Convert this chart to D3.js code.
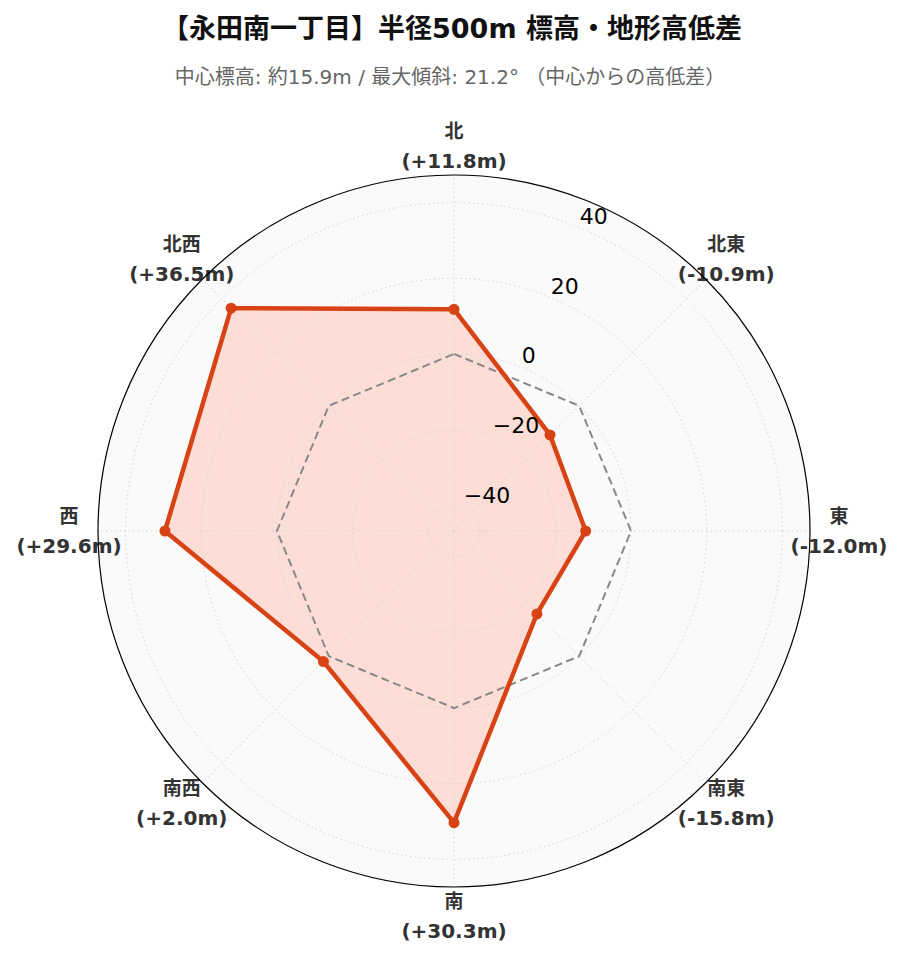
<!DOCTYPE html>
<html><head><meta charset="utf-8">
<script src="https://cdn.jsdelivr.net/npm/d3@7"></script>
<style>body{margin:0;background:#fff}svg{display:block}</style>
</head><body>
<svg id="c" width="903" height="962"></svg>
<script>
const directions = ["北","北東","東","南東","南","南西","西","北西"];
const values = [11.8, -10.9, -12.0, -15.8, 30.3, 2.0, 29.6, 36.5];
const valueLabels = ["(+11.8m)","(-10.9m)","(-12.0m)","(-15.8m)","(+30.3m)","(+2.0m)","(+29.6m)","(+36.5m)"];
const radialTicks = [-40, -20, 0, 20, 40];
const rDomain = [-46.8, 47.3];
const titleText = "【永田南一丁目】半径500m 標高・地形高低差";
const subtitleText = "中心標高: 約15.9m / 最大傾斜: 21.2° （中心からの高低差）";

const svg = d3.select("#c");
const cx = 454, cy = 531, R = 356;
const font = "'DejaVu Sans', 'Noto Sans CJK JP', sans-serif";
const r = d3.scaleLinear().domain(rDomain).range([0, R]);
const ang = d3.scalePoint().domain(directions).range([0, 2*Math.PI*(7/8)]);
const g = svg.append("g").attr("transform", `translate(${cx},${cy})`);

g.append("circle").attr("r", R).attr("fill", "#fafafa");
const line = d3.lineRadial().angle((d,i) => ang(directions[i])).radius(d => r(d)).curve(d3.curveLinearClosed);
// data fill
g.append("path").datum(values).attr("d", line)
  .attr("fill", "#fdded6").attr("stroke", "none");
// grid circles
g.selectAll("circle.grid").data(radialTicks).join("circle")
  .attr("r", d => r(d)).attr("fill", "none").attr("stroke", "#d3d3d3")
  .attr("stroke-width", 1).attr("stroke-dasharray", "1.5,3");
// spokes
g.selectAll("line.spoke").data(directions).join("line")
  .attr("x1", 0).attr("y1", 0)
  .attr("x2", d => R*Math.sin(ang(d))).attr("y2", d => -R*Math.cos(ang(d)))
  .attr("stroke", "#d3d3d3").attr("stroke-width", 1).attr("stroke-dasharray", "1.5,3");

// reference zero line
g.append("path").datum(directions.map(() => 0)).attr("d", line)
  .attr("fill", "none").attr("stroke", "#888").attr("stroke-width", 2).attr("stroke-dasharray", "8,4.5");
// data line
g.append("path").datum(values).attr("d", line)
  .attr("fill", "none")
  .attr("stroke", "#d84315").attr("stroke-width", 4.5).attr("stroke-linejoin", "round");
g.selectAll("circle.pt").data(values).join("circle")
  .attr("cx", (d,i) => r(d)*Math.sin(ang(directions[i])))
  .attr("cy", (d,i) => -r(d)*Math.cos(ang(directions[i])))
  .attr("r", 5.5).attr("fill", "#d84315");

// tick labels
const ta = Math.PI/8;
g.selectAll("text.tick").data(radialTicks).join("text")
  .attr("x", d => r(d)*Math.sin(ta) + 0)
  .attr("y", d => -r(d)*Math.cos(ta) - 4)
  .attr("font-family", "'DejaVu Sans', sans-serif").attr("font-size", 22).attr("fill", "#000")
  .text(d => d < 0 ? "\u2212" + Math.abs(d) : d);

// direction labels
const LR = 385;
const lab = g.selectAll("g.lab").data(directions).join("g")
  .attr("transform", d => `translate(${LR*Math.sin(ang(d))},${-LR*Math.cos(ang(d))})`);
lab.append("text").attr("y", -15).attr("dy", "0.36em").attr("text-anchor", "middle")
  .attr("font-family", font).attr("font-weight", "bold").attr("font-size", 19).attr("fill", "#333")
  .text(d => d);
lab.append("text").attr("y", 15).attr("dy", "0.36em").attr("text-anchor", "middle")
  .attr("font-family", font).attr("font-weight", "bold").attr("font-size", 20).attr("fill", "#333")
  .text((d,i) => valueLabels[i]);

// outer circle
g.append("circle").attr("r", R).attr("fill", "none").attr("stroke", "#000").attr("stroke-width", 1.2);

svg.append("text").attr("x", 452).attr("y", 38).attr("text-anchor", "middle")
  .attr("font-family", font).attr("font-weight", "bold").attr("font-size", 27).attr("fill", "#111")
  .text(titleText);
svg.append("text").attr("x", 450).attr("y", 84).attr("text-anchor", "middle")
  .attr("font-family", font).attr("font-size", 20).attr("fill", "#666")
  .text(subtitleText);
</script>
</body></html>
